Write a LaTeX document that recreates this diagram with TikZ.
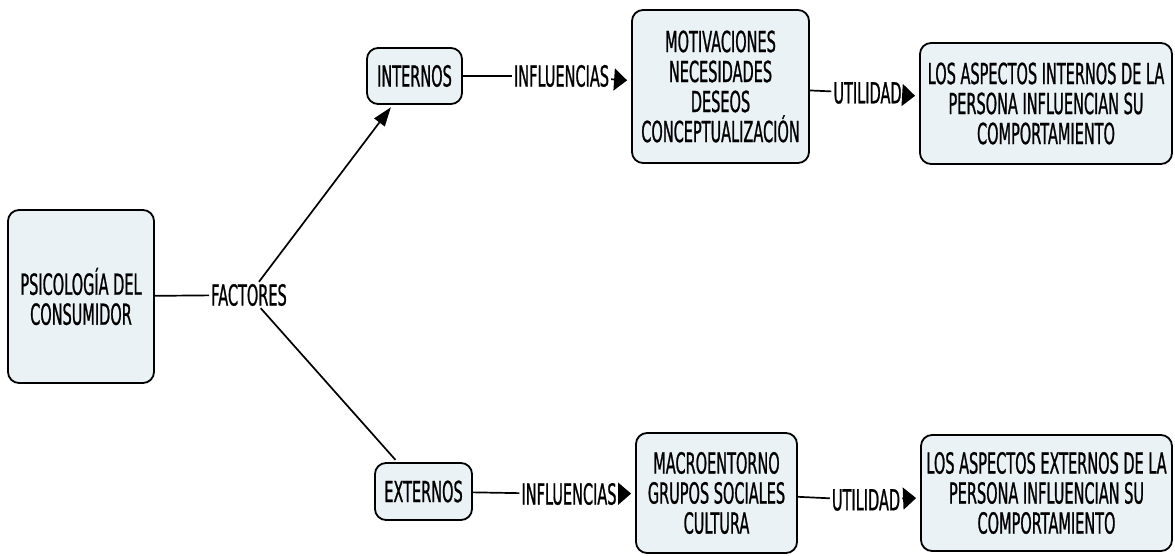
\documentclass[tikz,border=0pt]{standalone}
\usepackage{fontspec}
\setmainfont{DejaVu Sans}[FakeStretch=0.5, FakeBold=0.8]
\usetikzlibrary{arrows.meta}
\definecolor{boxfill}{RGB}{234,242,245}
\begin{document}
\begin{tikzpicture}[x=1pt,y=-1pt,
  concept/.style={draw=black, line width=1.8pt, fill=boxfill, rounded corners=11pt,
    align=center, inner sep=0pt, font=\fontsize{29}{30}\selectfont},
  linkword/.style={inner sep=2pt, font=\fontsize{29}{30}\selectfont},
  link/.style={line width=1.7pt},
  flow/.style={link, -{Triangle[length=13pt,width=22pt]}, shorten >=4pt},
]
\useasboundingbox (0,0) rectangle (1175,556);

% concepts
\node[concept, minimum width=146pt, minimum height=173pt] (psico) at (81,296.5) {PSICOLOGÍA DEL\\CONSUMIDOR};
\node[concept, minimum width=95pt, minimum height=56pt] (internos) at (414.5,76) {INTERNOS};
\node[concept, minimum width=97pt, minimum height=57pt] (externos) at (423.5,491.5) {EXTERNOS};
\node[concept, minimum width=177pt, minimum height=153pt] (motiv) at (720.5,86.5) {MOTIVACIONES\\NECESIDADES\\DESEOS\\CONCEPTUALIZACIÓN};
\node[concept, minimum width=161pt, minimum height=120pt] (macro) at (716.5,493) {MACROENTORNO\\GRUPOS SOCIALES\\CULTURA};
\node[concept, minimum width=252pt, minimum height=121pt] (intres) at (1046,103.5) {LOS ASPECTOS INTERNOS DE LA\\PERSONA INFLUENCIAN SU\\COMPORTAMIENTO};
\node[concept, minimum width=251pt, minimum height=116pt] (extres) at (1046.5,493) {LOS ASPECTOS EXTERNOS DE LA\\PERSONA INFLUENCIAN SU\\COMPORTAMIENTO};

% linking words
\node[linkword] (factores) at (249,295) {FACTORES};
\node[linkword] (infl1) at (561.5,76) {INFLUENCIAS};
\node[linkword] (infl2) at (569,494) {INFLUENCIAS};
\node[linkword] (util1) at (867.5,93) {UTILIDAD};
\node[linkword] (util2) at (866,500) {UTILIDAD};

% connectors
\draw[link] (psico) -- (factores);
\draw[link, -{Triangle[length=19pt,width=13pt]}, shorten >=3pt] (factores) -- (internos);
\draw[link, shorten >=3pt] (factores) -- (externos);
\draw[link] (internos) -- (infl1);
\draw[flow] (infl1) -- (motiv);
\draw[link] (motiv) -- (util1);
\draw[flow] (util1) -- (intres);
\draw[link] (externos) -- (infl2);
\draw[flow] (infl2) -- (macro);
\draw[link] (macro) -- (util2);
\draw[flow] (util2) -- (extres);
\end{tikzpicture}
\end{document}
